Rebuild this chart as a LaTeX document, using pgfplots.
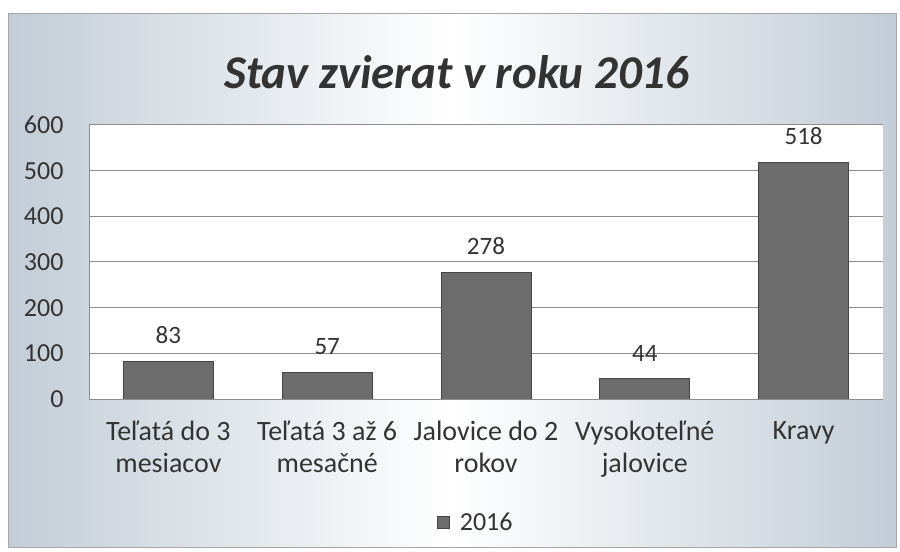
\documentclass[border=0pt]{standalone}
\usepackage{fontspec}
\setmainfont{Carlito}
\usepackage{pgfplots}
\pgfplotsset{compat=1.18}
\definecolor{barfill}{RGB}{108,108,108}
\definecolor{bardraw}{RGB}{70,70,70}
\definecolor{bgblue}{RGB}{195,205,215}
\definecolor{gridgray}{RGB}{140,140,140}

\begin{document}
\begin{tikzpicture}
\useasboundingbox (0,0) rectangle (900bp,552bp);
\fill[white] (0,0) rectangle (900bp,552bp);
\shade[left color=bgblue, right color=bgblue, middle color=white]
  (8bp,4bp) rectangle (896bp,538bp);
\draw[gray!70, line width=1bp] (8bp,4bp) rectangle (896bp,538bp);
\begin{axis}[
    at={(89bp,153bp)}, anchor=south west,
    scale only axis, width=794bp, height=274bp,
    axis background/.style={fill=white},
    ybar, bar width=90bp,
    xmin=-0.5, xmax=4.5, ymin=0, ymax=600,
    xtick=data,
    xticklabels={{Teľatá do 3\\mesiacov},{Teľatá 3 až 6\\mesačné},{Jalovice do 2\\rokov},{Vysokoteľné\\jalovice},{Kravy\\\mbox{}}},
    ytick={0,100,...,600},
    axis x line*=bottom, axis y line*=left,
    axis line style={gridgray, line width=1bp, -},
    ymajorgrids, grid style={gridgray, line width=1bp},
    major tick length=0pt,
    /pgf/number format/assume math mode=true,
    x tick label style={font=\fontsize{28bp}{32bp}\selectfont, align=center, text=black!80, yshift=-19bp},
    y tick label style={font=\fontsize{26bp}{30bp}\selectfont, text=black!80, xshift=-22bp},
    nodes near coords,
    every node near coord/.append style={font=\fontsize{25bp}{30bp}\selectfont, text=black!80, yshift=14bp},
    legend style={at={(0.487,-0.449)}, anchor=center, draw=none, fill=none,
      font=\fontsize{26bp}{28bp}\selectfont, text=black!80},
    legend image code/.code={\draw[fill=barfill, draw=bardraw] (0bp,-6bp) rectangle (12bp,6bp); \path (20bp,0bp);},
]
\addplot[fill=barfill, draw=bardraw, line width=1bp] coordinates {
    (0,83) (1,57) (2,278) (3,44) (4,518)
};
\addlegendentry{2016}
\end{axis}
\node[font=\fontsize{47bp}{52bp}\selectfont\bfseries\itshape, text=black!80] at (457bp,480bp) {Stav zvierat v roku 2016};
\end{tikzpicture}
\end{document}
